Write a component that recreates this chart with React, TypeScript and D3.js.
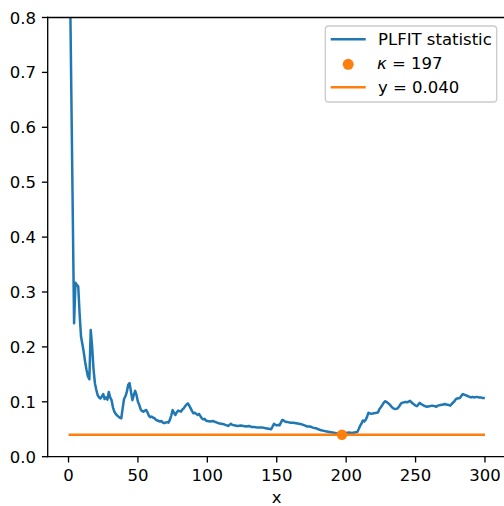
import React from "react";
import * as d3 from "d3";

const statX = [1,4,5,6,7,8,9,10,11,12,13,14,15,16,17,18,19,20,21,22,23,24,25,26,27,28,29,30,31,32,33,34,35,36,37,38,39,40,41,42,43,44,45,46,47,48,49,50,51,52,53,54,55,56,57,58,59,60,61,62,63,64,65,66,67,68,69,70,71,72,73,74,75,76,77,78,79,80,81,82,83,84,85,86,87,88,89,90,91,92,93,94,95,96,97,98,99,100,102,104,106,108,110,112,114,115,116,117,118,120,122,124,126,128,130,132,134,136,138,140,142,144,146,147,148,149,150,151,152,153,154,155,156,157,158,160,162,164,166,168,170,172,174,176,178,180,182,184,186,188,190,192,194,196,197,198,200,202,204,206,208,209,210,211,212,213,214,215,216,217,218,220,222,223,224,225,226,227,228,229,230,231,232,233,234,235,236,237,238,239,240,242,243,244,246,247,248,249,250,251,252,253,254,256,258,260,262,264,265,266,268,270,271,272,274,275,276,278,279,280,282,283,284,285,286,287,288,290,291,292,294,296,297,298,299];
const statY = [0.88,0.243,0.317,0.313,0.310,0.26,0.219,0.205,0.19,0.172,0.158,0.146,0.141,0.231,0.20,0.16,0.134,0.122,0.112,0.108,0.106,0.11,0.114,0.105,0.108,0.104,0.118,0.108,0.103,0.09,0.082,0.078,0.075,0.073,0.071,0.070,0.088,0.105,0.110,0.118,0.131,0.134,0.118,0.103,0.112,0.120,0.112,0.100,0.094,0.086,0.083,0.082,0.084,0.085,0.080,0.074,0.072,0.073,0.071,0.070,0.067,0.066,0.065,0.064,0.065,0.062,0.061,0.062,0.063,0.062,0.067,0.075,0.085,0.080,0.076,0.081,0.084,0.083,0.082,0.086,0.088,0.092,0.095,0.097,0.093,0.088,0.083,0.079,0.080,0.078,0.076,0.078,0.074,0.070,0.068,0.069,0.066,0.065,0.064,0.065,0.063,0.061,0.060,0.059,0.057,0.056,0.058,0.060,0.058,0.057,0.056,0.057,0.056,0.055,0.056,0.054,0.054,0.053,0.053,0.053,0.052,0.051,0.050,0.055,0.060,0.058,0.057,0.058,0.057,0.062,0.067,0.066,0.064,0.063,0.063,0.062,0.062,0.061,0.060,0.059,0.057,0.055,0.055,0.053,0.052,0.050,0.048,0.047,0.046,0.045,0.044,0.043,0.042,0.041,0.040,0.041,0.043,0.044,0.043,0.044,0.045,0.050,0.056,0.060,0.066,0.064,0.067,0.072,0.080,0.079,0.078,0.079,0.080,0.081,0.087,0.090,0.094,0.098,0.101,0.100,0.098,0.096,0.093,0.090,0.088,0.087,0.087,0.088,0.091,0.095,0.098,0.099,0.100,0.099,0.102,0.099,0.097,0.095,0.093,0.092,0.095,0.098,0.096,0.093,0.091,0.092,0.093,0.092,0.091,0.093,0.094,0.095,0.096,0.095,0.094,0.093,0.096,0.101,0.105,0.106,0.107,0.111,0.114,0.113,0.112,0.111,0.110,0.108,0.109,0.108,0.109,0.108,0.108,0.107,0.107];

const kappa = 197;
const kappaY = 0.040;
const hLineX = [0, 300];
const xTicks = [0, 50, 100, 150, 200, 250, 300];
const yTicks = [0.0, 0.1, 0.2, 0.3, 0.4, 0.5, 0.6, 0.7, 0.8];
const legendLabels = ["PLFIT statistic", "= 197", "y = 0.040"];

const BLUE = "#1f77b4";
const ORANGE = "#ff7f0e";
const FONT = "DejaVu Sans, sans-serif";
const FS = 16.5;

export default function App() {
  const W = 504, H = 506;
  const left = 47.7, right = 505.8, top = 17.5, bottom = 456.7;
  const x = d3.scaleLinear().domain([-15, 315]).range([left, right]);
  const y = d3.scaleLinear().domain([0, 0.8]).range([bottom, top]);
  const pts: [number, number][] = statX.map((v, i) => [v, statY[i]]);
  const line = d3.line<[number, number]>().x(d => x(d[0])).y(d => y(d[1]));
  const tick = 5.8;
  const lx = 325.3, ly = 26, lw = 171.4, lh = 76;
  const rowY = [45, 68.7, 92.5];
  return (
    <svg width={W} height={H} style={{ position: "absolute", left: 0, top: 0, background: "#fff" }} fontFamily={FONT}>
      <defs>
        <clipPath id="ax">
          <rect x={left} y={top} width={right - left} height={bottom - top} />
        </clipPath>
      </defs>
      <rect x={0} y={0} width={W} height={H} fill="#fff" />
      <g clipPath="url(#ax)">
        <path d={line(pts) || ""} fill="none" stroke={BLUE} strokeWidth={2.5} strokeLinejoin="round" strokeLinecap="square" />
        <line x1={x(hLineX[0])} x2={x(hLineX[1])} y1={y(kappaY)} y2={y(kappaY)} stroke={ORANGE} strokeWidth={2.5} />
        <circle cx={x(kappa)} cy={y(kappaY)} r={5.2} fill={ORANGE} />
      </g>
      {/* spines */}
      <line x1={left} x2={left} y1={top} y2={bottom} stroke="#000" strokeWidth={1.33} strokeLinecap="square" />
      <line x1={left} x2={right} y1={bottom} y2={bottom} stroke="#000" strokeWidth={1.33} strokeLinecap="square" />
      <line x1={left} x2={right} y1={top} y2={top} stroke="#000" strokeWidth={1.33} strokeLinecap="square" />
      <line x1={right} x2={right} y1={top} y2={bottom} stroke="#000" strokeWidth={1.33} />
      {xTicks.map(t => (
        <g key={"x" + t}>
          <line x1={x(t)} x2={x(t)} y1={bottom} y2={bottom + tick} stroke="#000" strokeWidth={1.33} />
          <text x={x(t)} y={481} textAnchor="middle" fontSize={FS} fill="#000">{t}</text>
        </g>
      ))}
      {yTicks.map(t => (
        <g key={"y" + t}>
          <line x1={left - tick} x2={left} y1={y(t)} y2={y(t)} stroke="#000" strokeWidth={1.33} />
          <text x={36} y={y(t) + 6} textAnchor="end" fontSize={FS} fill="#000">{t.toFixed(1)}</text>
        </g>
      ))}
      <text x={(left + right) / 2} y={502.5} textAnchor="middle" fontSize={FS} fill="#000">x</text>
      {/* legend */}
      <rect x={lx} y={ly} width={lw} height={lh} rx={3.3} fill="#fff" fillOpacity={0.8} stroke="#cccccc" strokeWidth={1.33} />
      <line x1={330.7} x2={365.7} y1={rowY[0] - 5.7} y2={rowY[0] - 5.7} stroke={BLUE} strokeWidth={2.5} />
      <circle cx={348.2} cy={rowY[1] - 4.4} r={5.5} fill={ORANGE} />
      <line x1={330.7} x2={365.7} y1={rowY[2] - 5.2} y2={rowY[2] - 5.2} stroke={ORANGE} strokeWidth={2.5} />
      <text x={378} y={rowY[0]} fontSize={FS} fill="#000">{legendLabels[0]}</text>
      <text y={rowY[1]} fontSize={FS} fill="#000">
        <tspan x={377} fontStyle="italic">κ</tspan>
        <tspan x={392}>{legendLabels[1]}</tspan>
      </text>
      <text x={378} y={rowY[2]} fontSize={FS} fill="#000">{legendLabels[2]}</text>
    </svg>
  );
}
